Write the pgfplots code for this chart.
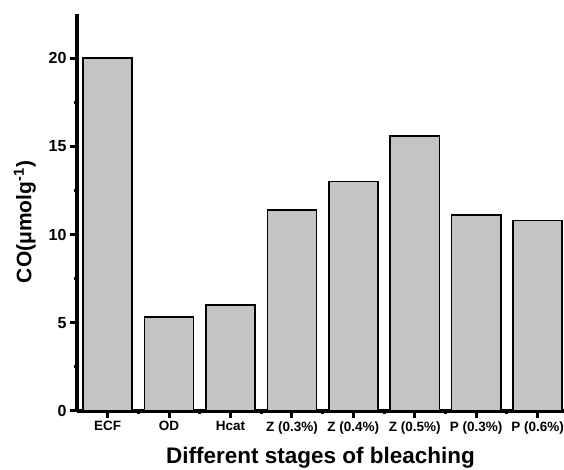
\documentclass[border=0pt]{standalone}
\usepackage{pgfplots}
\pgfplotsset{compat=1.18}
\usepackage{fontspec}
\setmainfont{Liberation Sans}
\definecolor{barGray}{RGB}{196,196,196}
\begin{document}
\begin{tikzpicture}
\begin{axis}[
  scale only axis,
  width=487pt, height=397pt,
  xmin=-0.5, xmax=7.43,
  ymin=0, ymax=22.5,
  axis lines*=left,
  axis line style={line width=3.5pt},
  xtick={0,1,2,3,4,5,6,7},
  xticklabels={ECF,OD,Hcat,Z (0.3\%),Z (0.4\%),Z (0.5\%),P (0.3\%),P (0.6\%)},
  minor xtick={0.5,1.5,2.5,3.5,4.5,5.5,6.5},
  ytick={0,5,10,15,20},
  minor ytick={2.5,7.5,12.5,17.5},
  tick align=outside,
  major tick length=7pt,
  minor tick length=3pt,
  every tick/.style={black, line width=3pt},
  tick label style={font=\fontsize{16}{18}\selectfont\bfseries},
  xticklabel style={font=\fontsize{13.5}{15}\selectfont\bfseries},
  /pgf/number format/assume math mode=true,
  xlabel={Different stages of bleaching},
  ylabel={CO(μmolg\textsuperscript{-1})},
  xlabel style={font=\fontsize{22.5}{24}\selectfont\bfseries, at={(axis description cs:0.5,-0.118)}, anchor=center},
  ylabel style={font=\fontsize{21}{23}\selectfont\bfseries, at={(axis description cs:-0.107,0.476)}, anchor=center},
]
\addplot[ybar, bar width=0.8, fill=barGray, draw=black, line width=1.6pt]
  coordinates {(0,20) (1,5.33) (2,6.0) (3,11.4) (4,13.0) (5,15.6) (6,11.1) (7,10.8)};
\end{axis}
\pgfresetboundingbox
\path (current axis.south west) ++(-77pt,-59pt) rectangle ++(564pt,470pt);
\end{tikzpicture}
\end{document}
